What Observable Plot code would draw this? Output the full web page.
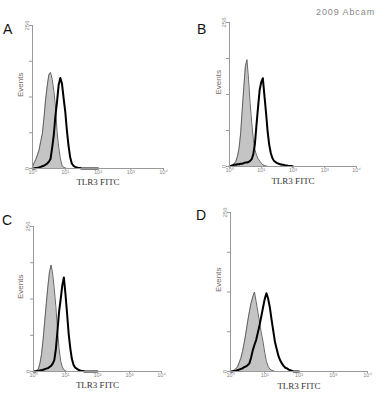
<!DOCTYPE html>
<html><head><meta charset="utf-8">
<script src="https://cdn.jsdelivr.net/npm/d3@7"></script>
<script src="https://cdn.jsdelivr.net/npm/@observablehq/plot@0.6"></script>
<style>
body{margin:0;background:#fff;}
#wrap{position:relative;width:387px;height:400px;overflow:hidden;background:#fff;font-family:"Liberation Sans",Arial,sans-serif;}
.panel{position:absolute;}
.letter{position:absolute;font-size:14px;line-height:14px;color:#111;}
.credit{position:absolute;left:316px;top:8px;font-size:9px;line-height:9px;letter-spacing:0.9px;color:#888;}
</style></head><body><div id="wrap"></div>
<script>
// log10 fluorescence (decades) of each histogram bin
const decades = [0,0.05,0.1,0.15,0.2,0.25,0.3,0.35,0.4,0.45,0.5,0.55,0.6,0.65,0.7,0.75,0.8,0.85,0.9,0.95,1,1.05,1.1,1.15,1.2,1.25,1.3,1.35,1.4,1.45,1.5,1.55,1.6,1.65,1.7,1.75,1.8,1.85,1.9,1.95,2];
const panelLetters = ["A","B","C","D"];
const xTickValues = [0,1,2,3,4];
const xTickLabels = ["10⁰","10¹","10²","10³","10⁴"];
const yTickValues = [0,64,128,192,256];
const yTickLabels = ["0","","","","256"];
const xLabel = "TLR3 FITC";
const yLabel = "Events";
const credit = "2009 Abcam";

// isotype control (grey filled) counts
const isoA = [3,10,16,24,33,48,62,90,123,148,168,172,160,140,112,66,38,18,6,2,1,0,0,0,0,0,0,0,0,0,0,0,0,0,0,0,0,0,0,0,0];
const isoB = [0,2,3,5,9,18,32,58,100,140,178,190,155,112,78,48,30,20,14,10,6,3,2,1,0,0,0,0,0,0,0,0,0,0,0,0,0,0,0,0,0];
const isoC = [0,1,2,4,14,30,56,88,120,150,176,188,172,145,114,72,40,18,8,3,1,0,0,0,0,0,0,0,0,0,0,0,0,0,0,0,0,0,0,0,0];
const isoD = [0,1,2,4,7,14,21,32,46,62,80,96,110,120,128,112,96,78,62,48,30,16,8,4,2,1,0,0,0,0,0,0,0,0,0,0,0,0,0,0,0];
// TLR3 stained (black line) counts
const tlrA = [0,0,1,1,2,3,4,5,7,9,12,17,37,60,94,120,150,162,152,126,102,68,41,20,9,5,3,2,1,1,0,0,0,0,0,0,0,0,0,0,0];
const tlrB = [0,1,2,3,3,4,4,5,5,6,7,7,8,10,13,22,40,74,106,136,150,157,126,96,63,39,24,15,10,8,6,5,4,3,3,2,2,1,1,1,0];
const tlrC = [0,0,1,1,2,2,3,4,5,6,8,10,14,20,40,72,106,128,152,166,136,102,66,41,22,12,7,5,3,2,1,1,0,0,0,0,0,0,0,0,0];
const tlrD = [0,0,1,1,2,3,4,5,7,8,10,13,22,34,43,51,63,75,89,103,117,126,117,103,83,65,47,36,25,18,13,9,6,5,3,2,1,0,0,0,0];

const isoSeries = [isoA, isoB, isoC, isoD];
const tlrSeries = [tlrA, tlrB, tlrC, tlrD];

const layout = [
  {left:0,   top:0,   w:194, h:200, ml:32, mr:31, mt:25, mb:32, lx:3, ly:22, xdy:16, ydx:-12},
  {left:194, top:0,   w:193, h:200, ml:35, mr:31, mt:22, mb:34, lx:3, ly:22, xdy:17, ydx:-11},
  {left:0,   top:200, w:194, h:200, ml:33, mr:33, mt:26, mb:29, lx:2, ly:13, xdy:16, ydx:-13},
  {left:194, top:200, w:193, h:200, ml:36, mr:20, mt:12, mb:29, lx:2, ly:8,  xdy:17, ydx:-12}
];

const wrap = document.getElementById("wrap");

layout.forEach((L, k) => {
  const data = decades.map((d, i) => ({d, iso: isoSeries[k][i], tlr: tlrSeries[k][i]}));
  const chart = Plot.plot({
    width: L.w, height: L.h,
    marginLeft: L.ml, marginRight: L.mr, marginTop: L.mt, marginBottom: L.mb,
    x: {domain: [0, 4]},
    y: {domain: [0, 256]},
    style: {background: "transparent", fontFamily: "Liberation Sans, Arial, sans-serif", overflow: "visible"},
    marks: [
      Plot.areaY(data, {x: "d", y: "iso", fill: "#c4c4c4"}),
      Plot.lineY(data, {x: "d", y: "iso", stroke: "#555", strokeWidth: 0.9}),
      Plot.lineY(data, {x: "d", y: "tlr", stroke: "#000", strokeWidth: 2}),
      Plot.ruleX([0], {stroke: "#999", strokeWidth: 1}),
      Plot.ruleY([0], {stroke: "#999", strokeWidth: 1}),
      Plot.axisX({ticks: xTickValues, tickFormat: d => xTickLabels[xTickValues.indexOf(d)], tickSize: 2, tickPadding: 0, fontSize: 5.5, fill: "#888", stroke: "#999", label: null}),
      Plot.axisY({ticks: yTickValues, tickFormat: d => yTickLabels[yTickValues.indexOf(d)], tickSize: 3, tickPadding: 1, tickRotate: -90, fontSize: 6, fill: "#888", stroke: "#999", label: null}),
      Plot.text([yLabel], {text: d => d, frameAnchor: "left", dx: L.ydx, rotate: -90, fontSize: 8, fill: "#7a6a66"}),
      Plot.text([xLabel], {text: d => d, frameAnchor: "bottom", dy: L.xdy, fontFamily: "Liberation Serif, serif", fontSize: 9, fill: "#333"})
    ]
  });
  chart.classList.add("panel");
  chart.style.left = L.left + "px";
  chart.style.top = L.top + "px";
  wrap.appendChild(chart);
  const letter = document.createElement("div");
  letter.className = "letter";
  letter.textContent = panelLetters[k];
  letter.style.left = (L.left + L.lx) + "px";
  letter.style.top = (L.top + L.ly) + "px";
  wrap.appendChild(letter);
});

const c = document.createElement("div");
c.className = "credit";
c.textContent = credit;
wrap.appendChild(c);
</script>
</body></html>
